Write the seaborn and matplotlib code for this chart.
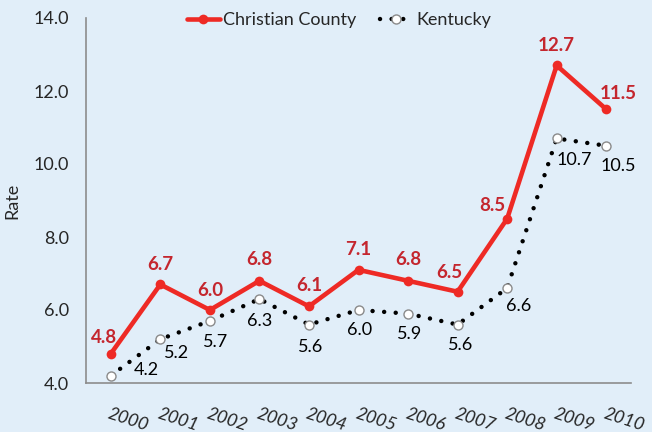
import numpy as np
import pandas as pd
import seaborn as sns
import matplotlib.pyplot as plt

years = ['2000', '2001', '2002', '2003', '2004', '2005', '2006', '2007', '2008', '2009', '2010']
christian = [4.8, 6.7, 6.0, 6.8, 6.1, 7.1, 6.8, 6.5, 8.5, 12.7, 11.5]
kentucky = [4.2, 5.2, 5.7, 6.3, 5.6, 6.0, 5.9, 5.6, 6.6, 10.7, 10.5]

BG = '#e1eef9'
RED = '#ee2a25'
RED_TXT = '#c4262e'
DOTS = (0, (0.01, 2.6))

sns.set_style('white', rc={'axes.facecolor': BG, 'figure.facecolor': BG})
plt.rcParams['font.family'] = ['Lato', 'DejaVu Sans']

df = pd.DataFrame({'pos': np.arange(len(years)), 'cc': christian, 'ky': kentucky})

fig = plt.figure(figsize=(6.52, 4.32), dpi=100)
ax = fig.add_axes([86 / 652, 1 - 383 / 432, 545 / 652, 365 / 432])

sns.lineplot(data=df, x='pos', y='ky', ax=ax, color='black', lw=3.2,
             marker='o', markersize=6.5, markerfacecolor='white',
             markeredgecolor='#8a8a8a', markeredgewidth=1, label='Kentucky')
ky_line = ax.lines[-1]
ky_line.set_linestyle(DOTS)
ky_line.set_dash_capstyle('round')
sns.lineplot(data=df, x='pos', y='cc', ax=ax, color=RED, lw=3.3,
             marker='o', markersize=7, markeredgewidth=0, label='Christian County')

# data labels (pixel offsets from the point)
cc_off = [(-7, 16), (0, 20), (0, 20), (0, 21), (0, 21), (0, 20), (0, 21), (-8, 19), (-15, 13), (0, 20), (12, 16)]
ky_off = [(36, 6), (16, -14), (6, -21), (0, -22), (2, -22), (1, -20), (2, -20), (3, -20), (11, -18), (18, -22), (12, -20)]
for i in range(len(years)):
    ax.annotate(f'{christian[i]:.1f}', (i, christian[i]), xytext=cc_off[i],
                textcoords='offset pixels', ha='center', va='center',
                color=RED_TXT, fontsize=13.5, fontweight='bold')
    ax.annotate(f'{kentucky[i]:.1f}', (i, kentucky[i]), xytext=ky_off[i],
                textcoords='offset pixels', ha='center', va='center',
                color='black', fontsize=13)

ax.set_xlim(-0.5, len(years) - 0.5)
ax.set_ylim(4, 14)
ax.set_yticks(np.arange(4, 15, 2))
ax.set_yticklabels([f'{v:.1f}' for v in np.arange(4, 15, 2)], fontsize=13)
ax.set_xticks(np.arange(-0.5, len(years), 1))
ax.set_xticklabels([])
ax.set_xticks(np.arange(len(years)), minor=True)
ax.set_xticklabels(years, minor=True, rotation=-18, rotation_mode='anchor',
                   ha='left', va='top', fontsize=13, style='italic')
ax.tick_params(axis='both', which='major', direction='inout', length=9,
               width=1.4, color='#b4bcc4', pad=8)
ax.tick_params(axis='x', which='minor', length=0, pad=16)

for s in ['top', 'right']:
    ax.spines[s].set_visible(False)
for s in ['left', 'bottom']:
    ax.spines[s].set_color('#8c8c8c')
    ax.spines[s].set_linewidth(1.2)

ax.set_xlabel('')
ax.set_ylabel('Rate', fontsize=13)
ax.yaxis.set_label_coords(-0.121, 0.5)

h, l = ax.get_legend_handles_labels()
leg = ax.legend(h[::-1], l[::-1], loc='center', bbox_to_anchor=(0.52, 0.954),
                bbox_transform=fig.transFigure, ncol=2, frameon=False, fontsize=13,
                handlelength=1.8, handletextpad=0.2, columnspacing=1.3)
for lh in leg.get_lines():
    if lh.get_color() == 'black':
        lh.set_linestyle(DOTS)
        lh.set_dash_capstyle('round')

plt.savefig('out.png', dpi=100, facecolor=BG)
